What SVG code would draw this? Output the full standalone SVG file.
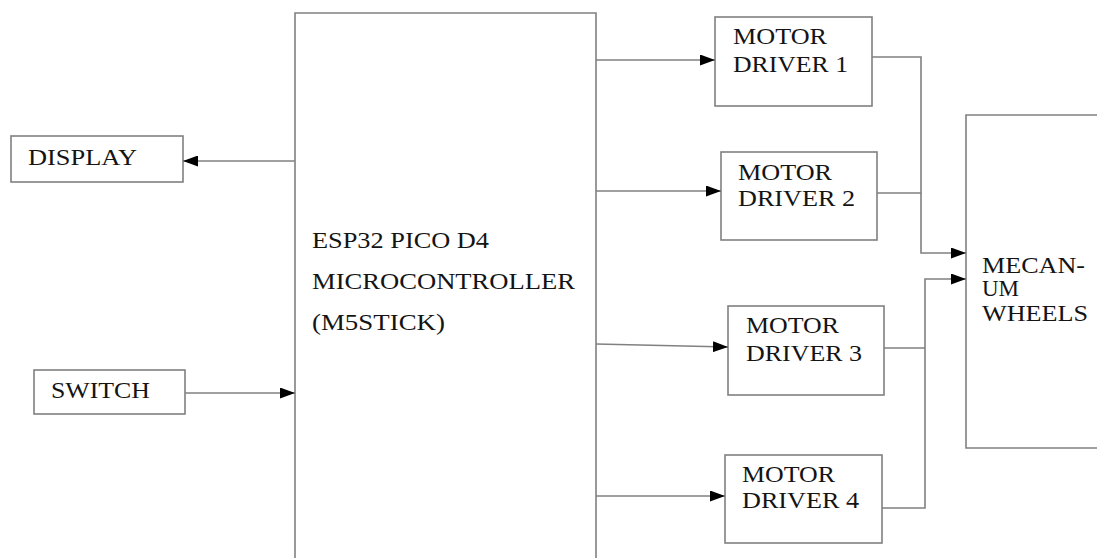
<svg xmlns="http://www.w3.org/2000/svg" width="1097" height="558" viewBox="0 0 1097 558">
<defs>
<marker id="ah" viewBox="0 0 15 11" refX="15" refY="5.5" markerWidth="15" markerHeight="11" markerUnits="userSpaceOnUse" orient="auto">
<path d="M0,0 L15,5.5 L0,11 Z" fill="#000"/>
</marker>
<style>
.box{fill:#fff;stroke:#808080;stroke-width:1.6}
.ln{fill:none;stroke:#808080;stroke-width:1.6}
.arr{fill:none;stroke:#808080;stroke-width:1.6;marker-end:url(#ah)}
text{font-family:"Liberation Serif","Times New Roman",serif;font-size:23px;fill:#141414}
</style>
</defs>
<rect width="1097" height="558" fill="#fff"/>
<g id="esp32">
<path class="box" d="M295,570 L295,13 L596,13 L596,570"/>
<text x="312" y="248" textLength="177" lengthAdjust="spacingAndGlyphs">ESP32 PICO D4</text>
<text x="312" y="289" textLength="263" lengthAdjust="spacingAndGlyphs">MICROCONTROLLER</text>
<text x="312" y="330" textLength="133" lengthAdjust="spacingAndGlyphs">(M5STICK)</text>
</g>
<g id="display">
<rect class="box" x="11" y="136" width="172" height="46"/>
<text x="28" y="165" textLength="109" lengthAdjust="spacingAndGlyphs">DISPLAY</text>
</g>
<g id="switch">
<rect class="box" x="34" y="370" width="151" height="44"/>
<text x="51" y="398" textLength="99" lengthAdjust="spacingAndGlyphs">SWITCH</text>
</g>
<g id="md1">
<rect class="box" x="715" y="17" width="157" height="89"/>
<text x="733" y="44" textLength="94" lengthAdjust="spacingAndGlyphs">MOTOR</text>
<text x="733" y="72" textLength="115" lengthAdjust="spacingAndGlyphs">DRIVER 1</text>
</g>
<g id="md2">
<rect class="box" x="721" y="152" width="156" height="88"/>
<text x="738" y="180" textLength="94" lengthAdjust="spacingAndGlyphs">MOTOR</text>
<text x="738" y="206" textLength="117" lengthAdjust="spacingAndGlyphs">DRIVER 2</text>
</g>
<g id="md3">
<rect class="box" x="728" y="306" width="156" height="89"/>
<text x="746" y="333" textLength="93" lengthAdjust="spacingAndGlyphs">MOTOR</text>
<text x="746" y="361" textLength="116" lengthAdjust="spacingAndGlyphs">DRIVER 3</text>
</g>
<g id="md4">
<rect class="box" x="725" y="455" width="157" height="88"/>
<text x="742" y="482" textLength="93" lengthAdjust="spacingAndGlyphs">MOTOR</text>
<text x="742" y="508" textLength="117" lengthAdjust="spacingAndGlyphs">DRIVER 4</text>
</g>
<g id="mecanum">
<path class="box" d="M1100,115 L966,115 L966,448 L1100,448"/>
<text x="982" y="273" textLength="103" lengthAdjust="spacingAndGlyphs">MECAN-</text>
<text x="982" y="296">UM</text>
<text x="982" y="321" textLength="106" lengthAdjust="spacingAndGlyphs">WHEELS</text>
</g>
<g id="connectors">
<path class="arr" d="M295,161 L183,161"/>
<path class="arr" d="M185,393 L295,393"/>
<path class="arr" d="M596,60 L715,60"/>
<path class="arr" d="M596,191 L721,191"/>
<path class="arr" d="M596,344 L728,347"/>
<path class="arr" d="M596,496 L725,496"/>
<path class="ln" d="M872,57 L921,57 L921,193 L877,193"/>
<path class="arr" d="M921,193 L921,253 L966,253"/>
<path class="ln" d="M884,348 L925,348"/>
<path class="ln" d="M882,508 L925,508 L925,348"/>
<path class="arr" d="M925,348 L925,279 L966,279"/>
</g>
</svg>
